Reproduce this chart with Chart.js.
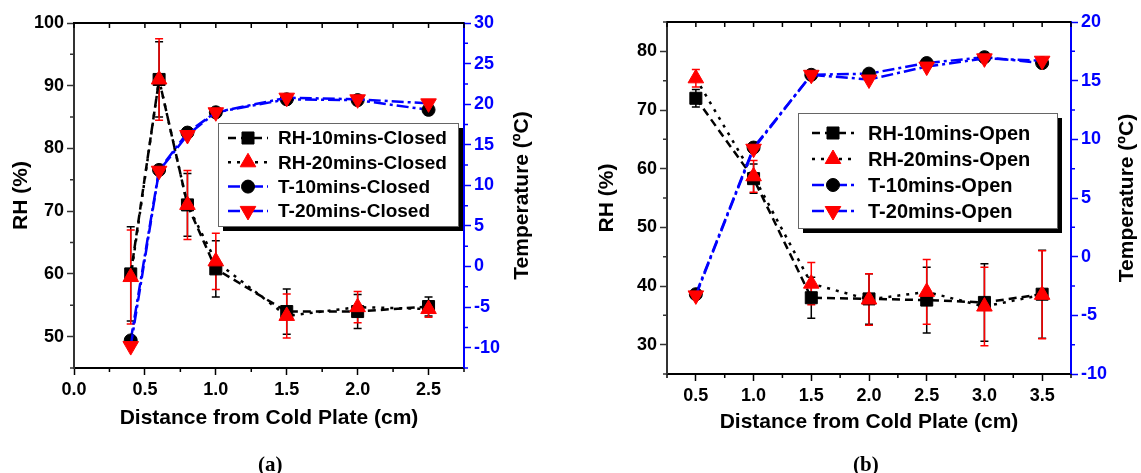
<!DOCTYPE html>
<html>
<head>
<meta charset="utf-8">
<script src="https://cdn.jsdelivr.net/npm/chart.js@4.4.0/dist/chart.umd.min.js"></script>
<style>
body { margin: 0; background: #fff; width: 1141px; height: 473px; position: relative; overflow: hidden; }
canvas { position: absolute; top: 0; }
#chartA { left: 0; }
#chartB { left: 570px; }
.tag { position: absolute; top: 452px; font: bold 21px "Liberation Serif", serif; color: #000; }
</style>
</head>
<body>
<canvas id="chartA" width="570" height="473"></canvas>
<canvas id="chartB" width="571" height="473"></canvas>
<div class="tag" style="left:258px">(a)</div>
<div class="tag" style="left:853px">(b)</div>
<script>
// (a) closed setup
var distClosed = [0.4, 0.6, 0.8, 1.0, 1.5, 2.0, 2.5];
var rh10Closed = [60, 91, 71, 60.8, 54, 54, 54.8];
var rh10ClosedErr = [7.5, 6, 5, 4.5, 3.6, 2.7, 1.5];
var rh20Closed = [59.5, 91, 71, 62, 53.3, 54.7, 54.4];
var rh20ClosedErr = [7.5, 6.5, 5.5, 4.5, 3.5, 2.5, 1.3];
var t10Closed = [-9.1, 11.9, 16.5, 19, 20.6, 20.5, 19.3];
var t20Closed = [-9.8, 11.8, 16.2, 19, 20.8, 20.6, 20.1];
var labelsClosed = ['RH-10mins-Closed', 'RH-20mins-Closed', 'T-10mins-Closed', 'T-20mins-Closed'];

// (b) open setup
var distOpen = [0.5, 1.0, 1.5, 2.0, 2.5, 3.0, 3.5];
var rh10Open = [72, 58.3, 38, 37.8, 37.6, 37.2, 38.6];
var rh10OpenErr = [1.5, 2.5, 3.5, 4.3, 5.6, 6.6, 7.5];
var rh20Open = [75.4, 58.7, 40.4, 37.7, 39, 36.5, 38.5];
var rh20OpenErr = [1.5, 2.7, 3.6, 4.4, 5.5, 6.7, 7.5];
var t10Open = [-3.2, 9.3, 15.5, 15.6, 16.5, 17, 16.5];
var t20Open = [-3.3, 9.2, 15.5, 15.1, 16.2, 16.9, 16.7];
var labelsOpen = ['RH-10mins-Open', 'RH-20mins-Open', 'T-10mins-Open', 'T-20mins-Open'];

var xTitle = 'Distance from Cold Plate (cm)';
var leftTitle = 'RH (%)';
var rightTitle = 'Temperature (\u00baC)';

var FONT = '"Liberation Sans", Arial, sans-serif';

function pts(xs, ys) {
    return xs.map(function(x, i) { return { x: x, y: ys[i] }; });
}

// step through a scale range at a fixed interval
function eachStep(min, max, step, fn) {
    var n0 = Math.ceil(min / step - 1e-9);
    var n1 = Math.floor(max / step + 1e-9);
    for (var n = n0; n <= n1; n++) fn(Math.round(n * step * 1000) / 1000);
}

function isMultiple(v, step) {
    var r = Math.abs(v / step - Math.round(v / step));
    return r < 1e-6;
}

// major ticks only at round multiples of the step
function roundTicks(step) {
    return function(s) {
        var t = [];
        eachStep(s.min, s.max, step, function(v) { t.push({ value: v }); });
        s.ticks = t;
    };
}

var errorBarPlugin = {
    id: 'errorBars',
    beforeDatasetsDraw: function(chart) {
        var ctx = chart.ctx;
        var xs = chart.scales.x;
        chart.data.datasets.forEach(function(ds) {
            if (!ds.errors) return;
            var ys = chart.scales[ds.yAxisID];
            ctx.save();
            ctx.strokeStyle = ds.errorColor;
            ctx.lineWidth = 1.5;
            ds.data.forEach(function(p, j) {
                var px = xs.getPixelForValue(p.x);
                var top = ys.getPixelForValue(p.y + ds.errors[j]);
                var bot = ys.getPixelForValue(p.y - ds.errors[j]);
                ctx.beginPath();
                ctx.moveTo(px, top); ctx.lineTo(px, bot);
                ctx.moveTo(px - 4, top); ctx.lineTo(px + 4, top);
                ctx.moveTo(px - 4, bot); ctx.lineTo(px + 4, bot);
                ctx.stroke();
            });
            ctx.restore();
        });
    }
};

// top border plus minor ticks (Origin style)
var framePlugin = {
    id: 'frame',
    afterDraw: function(chart, args, o) {
        var a = chart.chartArea, ctx = chart.ctx;
        var x = chart.scales.x, yl = chart.scales.y, yr = chart.scales.y1;
        ctx.save();
        ctx.strokeStyle = '#000';
        ctx.lineWidth = 2;
        ctx.beginPath();
        ctx.moveTo(a.left - 1, a.top);
        ctx.lineTo(a.right, a.top);
        ctx.stroke();
        ctx.lineWidth = 1.5;
        ctx.beginPath();
        eachStep(x.min, x.max, o.xMinor, function(v) {
            var px = x.getPixelForValue(v);
            ctx.moveTo(px, a.top);
            ctx.lineTo(px, a.top + 5);
            if (!isMultiple(v, o.xMinor * 2)) {
                ctx.moveTo(px, a.bottom);
                ctx.lineTo(px, a.bottom + 4);
            }
        });
        ctx.stroke();
        ctx.strokeStyle = '#333';
        ctx.beginPath();
        eachStep(yl.min, yl.max, o.yMinor, function(v) {
            if (isMultiple(v, o.yMinor * 2)) return;
            var py = yl.getPixelForValue(v);
            ctx.moveTo(a.left, py);
            ctx.lineTo(a.left - 4, py);
        });
        ctx.stroke();
        ctx.strokeStyle = '#0000ff';
        ctx.beginPath();
        eachStep(yr.min, yr.max, o.y1Minor, function(v) {
            if (isMultiple(v, o.y1Minor * 2)) return;
            var py = yr.getPixelForValue(v);
            ctx.moveTo(a.right, py);
            ctx.lineTo(a.right + 4, py);
        });
        ctx.stroke();
        ctx.restore();
    }
};

var rightTitlePlugin = {
    id: 'rightTitle',
    afterDraw: function(chart, args, o) {
        var a = chart.chartArea, ctx = chart.ctx;
        ctx.save();
        ctx.translate(o.x, (a.top + a.bottom) / 2);
        ctx.rotate(-Math.PI / 2);
        ctx.font = 'bold 21px ' + FONT;
        ctx.fillStyle = '#000';
        ctx.textAlign = 'center';
        ctx.textBaseline = 'middle';
        ctx.fillText(rightTitle, 0, 0);
        ctx.restore();
    }
};

// boxed legend with drop shadow, line + marker samples
var boxLegendPlugin = {
    id: 'boxLegend',
    afterDraw: function(chart, args, o) {
        var ctx = chart.ctx;
        ctx.save();
        ctx.fillStyle = '#000';
        ctx.fillRect(o.left + 5, o.top + 5, o.width, o.height);
        ctx.fillStyle = '#fff';
        ctx.fillRect(o.left, o.top, o.width, o.height);
        ctx.strokeStyle = '#666';
        ctx.lineWidth = 1;
        ctx.strokeRect(o.left + 0.5, o.top + 0.5, o.width, o.height);
        chart.data.datasets.forEach(function(ds, i) {
            var y = o.top + o.firstRow + i * o.rowGap;
            ctx.strokeStyle = ds.borderColor;
            ctx.lineWidth = ds.borderWidth;
            ctx.setLineDash(ds.borderDash);
            ctx.beginPath();
            ctx.moveTo(o.lineX0, y);
            ctx.lineTo(o.lineX1, y);
            ctx.stroke();
            ctx.setLineDash([]);
            ctx.fillStyle = ds.pointBackgroundColor;
            ctx.strokeStyle = ds.pointBorderColor;
            ctx.lineWidth = 1;
            Chart.helpers.drawPoint(ctx, {
                pointStyle: ds.pointStyle,
                rotation: ds.pointRotation || 0,
                radius: ds.pointRadius,
                borderWidth: 1
            }, (o.lineX0 + o.lineX1) / 2, y);
            ctx.fillStyle = '#000';
            ctx.font = 'bold ' + o.fontSize + 'px ' + FONT;
            ctx.textAlign = 'left';
            ctx.textBaseline = 'middle';
            ctx.fillText(ds.label, o.textX, y + 1);
        });
        ctx.restore();
    }
};

function makePanel(id, cfg) {
    var tickFont = { family: FONT, size: 18, weight: 'bold' };
    var titleFont = { family: FONT, size: 21, weight: 'bold' };
    var ctx = document.getElementById(id).getContext('2d');
    return new Chart(ctx, {
        type: 'line',
        data: {
            datasets: [{
                label: cfg.labels[0],
                data: pts(cfg.dist, cfg.rh10),
                yAxisID: 'y',
                borderColor: '#000',
                borderWidth: 2.5,
                borderDash: [8, 5],
                pointStyle: 'rect',
                pointRadius: 8.5,
                pointBackgroundColor: '#000',
                pointBorderColor: '#000',
                pointBorderWidth: 1,
                errors: cfg.rh10Err,
                errorColor: '#000',
                order: 4
            }, {
                label: cfg.labels[1],
                data: pts(cfg.dist, cfg.rh20),
                yAxisID: 'y',
                borderColor: '#000',
                borderWidth: 2.5,
                borderDash: [3, 6],
                pointStyle: 'triangle',
                pointRadius: 9,
                pointBackgroundColor: '#ff0000',
                pointBorderColor: '#ff0000',
                pointBorderWidth: 1,
                errors: cfg.rh20Err,
                errorColor: '#ff0000',
                order: 3
            }, {
                label: cfg.labels[2],
                data: pts(cfg.dist, cfg.t10),
                yAxisID: 'y1',
                borderColor: '#0000ff',
                borderWidth: 2.5,
                borderDash: [12, 4, 3, 4],
                pointStyle: 'circle',
                pointRadius: 6.5,
                pointBackgroundColor: '#000',
                pointBorderColor: '#000',
                pointBorderWidth: 1,
                order: 2
            }, {
                label: cfg.labels[3],
                data: pts(cfg.dist, cfg.t20),
                yAxisID: 'y1',
                borderColor: '#0000ff',
                borderWidth: 2.5,
                borderDash: [12, 4, 3, 4],
                pointStyle: 'triangle',
                pointRotation: 180,
                pointRadius: 9,
                pointBackgroundColor: '#ff0000',
                pointBorderColor: '#ff0000',
                pointBorderWidth: 1,
                order: 1
            }]
        },
        plugins: [errorBarPlugin, framePlugin, rightTitlePlugin, boxLegendPlugin],
        options: {
            responsive: false,
            animation: false,
            layout: { padding: { top: cfg.top, bottom: cfg.padBottom, left: 0, right: 0 } },
            plugins: {
                legend: { display: false },
                tooltip: { enabled: false },
                frame: { xMinor: cfg.xStep / 2, yMinor: cfg.yStep / 2, y1Minor: cfg.y1Step / 2 },
                rightTitle: { x: cfg.rightTitleX },
                boxLegend: cfg.legend
            },
            scales: {
                x: {
                    type: 'linear',
                    min: cfg.xMin,
                    max: cfg.xMax,
                    afterBuildTicks: roundTicks(cfg.xStep),
                    border: { color: '#000', width: 2 },
                    grid: { drawOnChartArea: false, tickLength: 7, tickColor: '#000', tickWidth: 1.5 },
                    ticks: {
                        color: '#000',
                        font: tickFont,
                        padding: 4,
                        maxRotation: 0,
                        autoSkip: false,
                        callback: function(v) { return v.toFixed(1); }
                    },
                    title: { display: true, text: xTitle, color: '#000', font: titleFont, padding: 0 },
                    afterFit: function(s) { s.height = cfg.xHeight; }
                },
                y: {
                    position: 'left',
                    min: cfg.yMin,
                    max: cfg.yMax,
                    afterBuildTicks: roundTicks(cfg.yStep),
                    border: { color: '#333', width: 2 },
                    grid: { drawOnChartArea: false, tickLength: 7, tickColor: '#333', tickWidth: 1.5 },
                    ticks: { color: '#000', font: tickFont, padding: 3, autoSkip: false },
                    title: { display: true, text: leftTitle, color: '#000', font: titleFont, padding: { top: cfg.leftTitlePad, bottom: 0 } },
                    afterFit: function(s) { s.width = cfg.leftWidth; }
                },
                y1: {
                    position: 'right',
                    min: cfg.y1Min,
                    max: cfg.y1Max,
                    afterBuildTicks: roundTicks(cfg.y1Step),
                    border: { color: '#0000ff', width: 2 },
                    grid: { drawOnChartArea: false, tickLength: 7, tickColor: '#0000ff', tickWidth: 1.5 },
                    ticks: { color: '#0000ff', font: tickFont, padding: 3, autoSkip: false },
                    afterFit: function(s) { s.width = cfg.rightWidth; }
                }
            }
        }
    });
}

makePanel('chartA', {
    dist: distClosed, rh10: rh10Closed, rh10Err: rh10ClosedErr, rh20: rh20Closed, rh20Err: rh20ClosedErr,
    t10: t10Closed, t20: t20Closed, labels: labelsClosed,
    xMin: 0, xMax: 2.75, xStep: 0.5,
    yMin: 45, yMax: 100, yStep: 10,
    y1Min: -12.5, y1Max: 30, y1Step: 5,
    top: 23, padBottom: 42, xHeight: 63,
    leftWidth: 74, rightWidth: 106, leftTitlePad: 9, rightTitleX: 522,
    legend: { left: 218, top: 123, width: 240, height: 103, firstRow: 15, rowGap: 24.3,
              lineX0: 228, lineX1: 268, textX: 278, fontSize: 19 }
});

makePanel('chartB', {
    dist: distOpen, rh10: rh10Open, rh10Err: rh10OpenErr, rh20: rh20Open, rh20Err: rh20OpenErr,
    t10: t10Open, t20: t20Open, labels: labelsOpen,
    xMin: 0.25, xMax: 3.75, xStep: 0.5,
    yMin: 25, yMax: 85, yStep: 10,
    y1Min: -10, y1Max: 20, y1Step: 5,
    top: 22, padBottom: 38, xHeight: 61,
    leftWidth: 97, rightWidth: 70, leftTitlePad: 25, rightTitleX: 557,
    legend: { left: 228, top: 113, width: 259, height: 115, firstRow: 20, rowGap: 26,
              lineX0: 242, lineX1: 284, textX: 298, fontSize: 20 }
});
</script>
</body>
</html>
